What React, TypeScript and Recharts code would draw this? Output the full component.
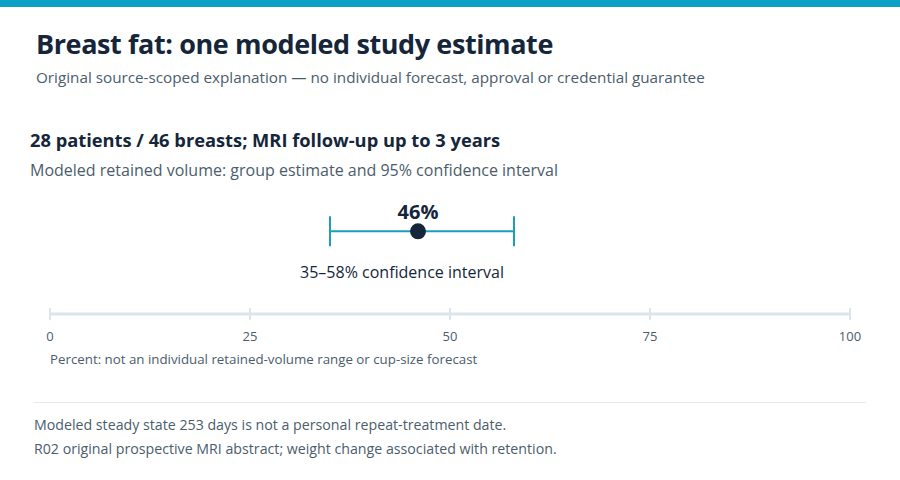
import React from "react";
import { ScatterChart, Scatter, XAxis, YAxis, ErrorBar } from "recharts";

const TICKS = [0, 25, 50, 75, 100];
const ESTIMATE = 46;
const CI_LOW = 35;
const CI_HIGH = 58;
const ROW = 1;

const data = [
  { x: ESTIMATE, y: ROW, ci: [ESTIMATE - CI_LOW, CI_HIGH - ESTIMATE] },
];

const FONT = '"Open Sans", "Noto Sans", sans-serif';
const INK = "#15263a";
const MUTED = "#4b5d6c";
const TEAL = "#1b9cc0";
const AXIS = "#dce6ea";

const AxisTick = (props: any) => {
  const { x, y, payload } = props;
  return (
    <g>
      <line x1={x} x2={x} y1={y - 6} y2={y + 6} stroke={AXIS} strokeWidth={2} />
      <text x={x} y={y + 27} textAnchor="middle" fontSize={13} fill={MUTED} fontFamily={FONT}>
        {payload.value}
      </text>
    </g>
  );
};

const Point = (props: any) => {
  const { cx, cy } = props;
  return (
    <g>
      <circle cx={cx} cy={cy} r={8} fill={INK} />
      <text x={cx} y={cy - 12} textAnchor="middle" fontSize={20} fontWeight={700} fill={INK} fontFamily={FONT}>
        {ESTIMATE}%
      </text>
      <text x={cx - 16} y={cy + 47} textAnchor="middle" fontSize={16} fill={INK} fontFamily={FONT}>
        {CI_LOW}–{CI_HIGH}% confidence interval
      </text>
    </g>
  );
};

const abs = (top: number, left: number, extra: React.CSSProperties = {}): React.CSSProperties => ({
  position: "absolute",
  top,
  left,
  margin: 0,
  whiteSpace: "nowrap",
  fontFamily: FONT,
  ...extra,
});

export default function App() {
  return (
    <div style={{ position: "absolute", left: 0, top: 0, width: 900, height: 480, background: "#fff", overflow: "hidden" }}>
      <div style={{ position: "absolute", left: 0, top: 0, width: 900, height: 7, background: "#0a9fc6" }} />
      <div style={abs(25, 36, { fontSize: 27, fontWeight: 700, color: INK, letterSpacing: -0.4 })}>
        Breast fat: one modeled study estimate
      </div>
      <div style={abs(67, 36, { fontSize: 15.25, color: MUTED })}>
        Original source-scoped explanation — no individual forecast, approval or credential guarantee
      </div>
      <div style={abs(127, 30, { fontSize: 18.3, fontWeight: 700, color: INK })}>
        28 patients / 46 breasts; MRI follow-up up to 3 years
      </div>
      <div style={abs(159, 30, { fontSize: 16, color: MUTED })}>
        Modeled retained volume: group estimate and 95% confidence interval
      </div>

      <div style={{ position: "absolute", left: 0, top: 0 }}>
        <ScatterChart width={900} height={480} margin={{ top: 190, right: 50, bottom: 136, left: 50 }}>
          <XAxis
            type="number"
            dataKey="x"
            domain={[0, 100]}
            ticks={TICKS}
            interval={0}
            height={30}
            tickSize={0}
            tickMargin={0}
            axisLine={{ stroke: AXIS, strokeWidth: 3 }}
            tickLine={false}
            tick={<AxisTick />}
          />
          <YAxis type="number" dataKey="y" domain={[0, 1.5]} hide />
          <Scatter data={data} shape={<Point />} isAnimationActive={false}>
            <ErrorBar dataKey="ci" direction="x" width={15} stroke={TEAL} strokeWidth={2} />
          </Scatter>
        </ScatterChart>
      </div>

      <div style={abs(350, 50, { fontSize: 13.3, color: MUTED })}>
        Percent: not an individual retained-volume range or cup-size forecast
      </div>
      <div style={{ position: "absolute", left: 34, top: 402, width: 832, height: 1, background: "#e3e9ed" }} />
      <div style={abs(415, 34, { fontSize: 14.2, color: MUTED })}>
        Modeled steady state 253 days is not a personal repeat-treatment date.
      </div>
      <div style={abs(439, 34, { fontSize: 14.2, color: MUTED })}>
        R02 original prospective MRI abstract; weight change associated with retention.
      </div>
    </div>
  );
}
